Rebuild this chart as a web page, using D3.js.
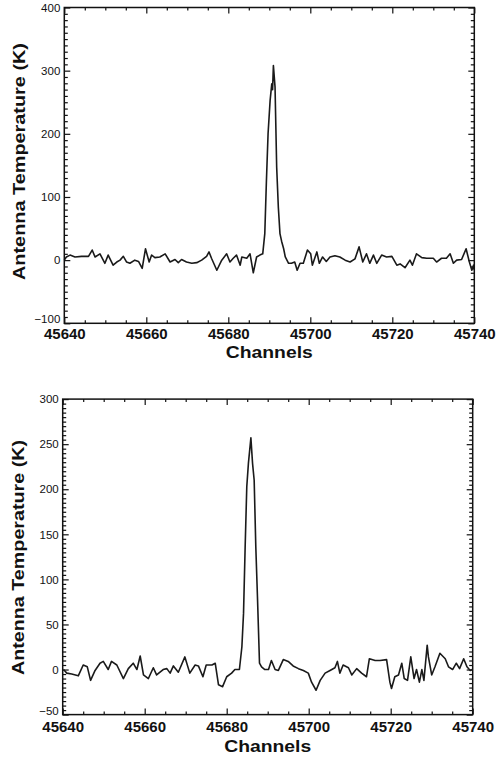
<!DOCTYPE html>
<html><head><meta charset="utf-8">
<script src="https://cdn.jsdelivr.net/npm/d3@7"></script>
<style>
html,body{margin:0;padding:0;background:#fff;}
svg{display:block;}
text{font-family:"Liberation Sans",Arial,Helvetica,sans-serif;fill:#111;}
</style></head>
<body>
<svg id="chart" width="496" height="758"></svg>
<script>
// ---------- DATA ----------
const xTicks = [45640, 45660, 45680, 45700, 45720, 45740];
const topYTicks = [-100, 0, 100, 200, 300, 400];
const bottomYTicks = [-50, 0, 50, 100, 150, 200, 250, 300];
const xLabel = "Channels";
const yLabel = "Antenna Temperature (K)";

const topChannels = [45640,45640.5,45641.4,45642.6,45644.2,45645.9,45646.8,45647.5,45648.7,45649.9,45650.7,45651.9,45652.8,45653.6,45654.4,45655.2,45656.0,45657.2,45658.1,45659.0,45659.8,45660.7,45661.3,45662.1,45663.3,45664.6,45665.8,45667.0,45667.8,45668.6,45669.8,45671.1,45672.3,45673.5,45674.7,45675.3,45675.9,45677.2,45678.4,45679.6,45680.4,45681.2,45682.0,45682.9,45683.3,45684.5,45685.3,45686.1,45686.9,45687.7,45688.4,45688.9,45689.3,45689.7,45690.2,45690.6,45690.8,45691.0,45691.4,45691.8,45692.2,45692.6,45693.0,45693.5,45693.9,45694.7,45695.4,45696.2,45696.8,45697.5,45698.3,45699.3,45700.1,45700.5,45701.6,45702.2,45703.0,45703.9,45704.8,45706.0,45707.2,45708.5,45709.7,45710.9,45711.9,45712.8,45713.7,45714.5,45715.4,45716.2,45717.4,45718.6,45719.9,45721.1,45721.9,45723.1,45724.3,45724.9,45725.9,45727.2,45728.4,45730.0,45730.8,45732.0,45733.2,45734.1,45734.9,45735.7,45736.9,45738.0,45738.8,45739.4,45739.8,45740];
const topTemps = [0,5,8,5,6,6,16,5,10,-5,8,-8,-3,0,6,-3,-5,0,-2,-13,18,-3,8,4,5,10,-3,1,-4,1,-3,-5,-4,0,6,13,3,-16,0,10,-3,3,8,-8,5,3,10,-20,5,8,10,42,126,200,253,279,270,308,274,147,84,42,30,18,5,-5,-5,-3,-16,-5,-5,16,10,-8,13,-5,5,-2,5,7,5,0,-3,2,21,-3,10,-5,8,-5,8,5,6,-8,-6,-12,0,-8,10,4,3,3,-3,3,3,10,-5,0,1,18,-3,-16,-8,-16];

const bottomChannels = [45640.2,45641.0,45642.2,45643.8,45645.0,45646.0,45646.8,45647.9,45649.1,45649.9,45651.1,45651.9,45653.2,45654.8,45656.0,45657.2,45658.1,45658.9,45659.7,45660.9,45662.1,45662.9,45664.5,45665.4,45666.2,45667.0,45668.2,45669.8,45671.0,45672.3,45673.1,45674.2,45675.0,45676.4,45677.2,45678.0,45679.0,45680.0,45681.2,45682.0,45683.1,45683.7,45684.1,45684.5,45684.9,45685.3,45685.9,45686.3,45686.7,45687.1,45687.5,45688.0,45688.5,45689.3,45690.2,45690.9,45691.8,45692.6,45693.8,45695.0,45696.2,45697.5,45698.7,45699.9,45700.7,45701.8,45702.8,45704.0,45705.2,45706.4,45707.0,45707.6,45708.4,45709.7,45710.5,45711.7,45712.9,45714.1,45714.8,45716.2,45717.4,45719.0,45719.8,45720.2,45721.0,45721.9,45722.7,45723.3,45724.1,45724.9,45725.7,45726.3,45727.0,45727.6,45728.1,45728.9,45729.2,45730.0,45730.8,45732.0,45733.3,45734.1,45735.1,45736.0,45736.8,45737.8,45738.6,45739.4,45739.8];
const bottomTemps = [0,-4,-5,-7,5,3,-12,-1,7,9,0,9,5,-10,1,7,0,15,-6,-10,2,-6,0,1,-4,4,-3,14,-4,5,4,-8,5,5,7,-17,-19,-8,-4,0,0,25,62,136,203,229,257,229,210,136,81,7,3,0,0,10,0,-1,11,9,4,1,-1,-4,-14,-23,-12,-4,-1,2,9,-4,5,2,-6,1,-4,-8,12,10,10,11,-14,-21,-8,-6,7,-10,-12,14,-10,0,-14,0,-12,27,14,-6,3,18,12,3,0,7,1,12,3,-1,0];

// ---------- LAYOUT ----------
const panels = [
  {channels: topChannels, temps: topTemps, yDomain: [-100, 400], yTicks: topYTicks, yMinorStep: 10,
   left: 64.3, right: 474.3, top: 7.5, bottom: 323.3, xPad: 5, xLabelY: 358, yLabelX: 25, yLabelCY: 161.5, yLabelLen: 237},
  {channels: bottomChannels, temps: bottomTemps, yDomain: [-50, 300], yTicks: bottomYTicks, yMinorStep: 5,
   left: 62.7, right: 472.7, top: 399.1, bottom: 714.6, xPad: 7, xLabelY: 751.5, yLabelX: 24, yLabelCY: 557.5, yLabelLen: 235}
];

const svg = d3.select("#chart");

panels.forEach(p => {
  const x = d3.scaleLinear().domain([xTicks[0], xTicks[xTicks.length - 1]]).range([p.left, p.right]);
  const y = d3.scaleLinear().domain(p.yDomain).range([p.bottom, p.top]);
  const g = svg.append("g");

  const xMinor = d3.range(xTicks[0], xTicks[xTicks.length - 1] + 0.1, 5).filter(v => !xTicks.includes(v));
  const yMinor = d3.range(p.yDomain[0], p.yDomain[1] + 0.1, p.yMinorStep).filter(v => !p.yTicks.includes(v));

  const styleAxis = sel => {
    sel.select(".domain").remove();
    sel.selectAll(".tick line").attr("stroke", "#111").attr("stroke-width", 1.2);
  };

  // bottom axis with labels
  g.append("g").attr("transform", `translate(0,${p.bottom})`)
    .call(d3.axisBottom(x).tickValues(xTicks).tickSize(-6).tickPadding(p.xPad).tickFormat(d3.format("d")))
    .call(styleAxis)
    .call(s => s.selectAll("text").attr("font-size", 15).attr("font-weight", "bold")
      .attr("font-family", '"Liberation Sans",Arial,sans-serif').attr("fill", "#111"));
  g.append("g").attr("transform", `translate(0,${p.bottom})`)
    .call(d3.axisBottom(x).tickValues(xMinor).tickSize(-3).tickFormat(""))
    .call(styleAxis);
  // top axis
  g.append("g").attr("transform", `translate(0,${p.top})`)
    .call(d3.axisTop(x).tickValues(xTicks).tickSize(-6).tickFormat(""))
    .call(styleAxis);
  g.append("g").attr("transform", `translate(0,${p.top})`)
    .call(d3.axisTop(x).tickValues(xMinor).tickSize(-3).tickFormat(""))
    .call(styleAxis);
  // left axis with labels
  g.append("g").attr("transform", `translate(${p.left},0)`)
    .call(d3.axisLeft(y).tickValues(p.yTicks).tickSize(-6).tickPadding(4))
    .call(styleAxis)
    .call(s => s.selectAll("text").attr("font-size", 11.5)
      .attr("font-family", '"Liberation Sans",Arial,sans-serif').attr("fill", "#222")
      .attr("y", d => d === p.yDomain[0] ? -4 : 0));
  g.append("g").attr("transform", `translate(${p.left},0)`)
    .call(d3.axisLeft(y).tickValues(yMinor).tickSize(-3.5).tickFormat(""))
    .call(styleAxis);
  // right axis
  g.append("g").attr("transform", `translate(${p.right},0)`)
    .call(d3.axisRight(y).tickValues(p.yTicks).tickSize(-6).tickFormat(""))
    .call(styleAxis);
  g.append("g").attr("transform", `translate(${p.right},0)`)
    .call(d3.axisRight(y).tickValues(yMinor).tickSize(-3.5).tickFormat(""))
    .call(styleAxis);

  // data line
  const pts = p.channels.map((c, i) => [c, p.temps[i]]);
  g.append("path").datum(pts)
    .attr("fill", "none").attr("stroke", "#1a1a1a").attr("stroke-width", 1.6)
    .attr("stroke-linejoin", "round")
    .attr("d", d3.line().x(d => x(d[0])).y(d => y(d[1])));

  // frame
  g.append("rect").attr("x", p.left).attr("y", p.top)
    .attr("width", p.right - p.left).attr("height", p.bottom - p.top)
    .attr("fill", "none").attr("stroke", "#111").attr("stroke-width", 1.5);

  // axis titles
  g.append("text").attr("x", (p.left + p.right) / 2).attr("y", p.xLabelY)
    .attr("text-anchor", "middle").attr("font-size", 16.5).attr("font-weight", "bold")
    .attr("textLength", 87).attr("lengthAdjust", "spacingAndGlyphs")
    .text(xLabel);
  g.append("text").attr("transform", `translate(${p.yLabelX},${p.yLabelCY}) rotate(-90)`)
    .attr("text-anchor", "middle").attr("font-size", 16.5).attr("font-weight", "bold")
    .attr("textLength", p.yLabelLen).attr("lengthAdjust", "spacingAndGlyphs")
    .text(yLabel);
});
</script>
</body></html>
